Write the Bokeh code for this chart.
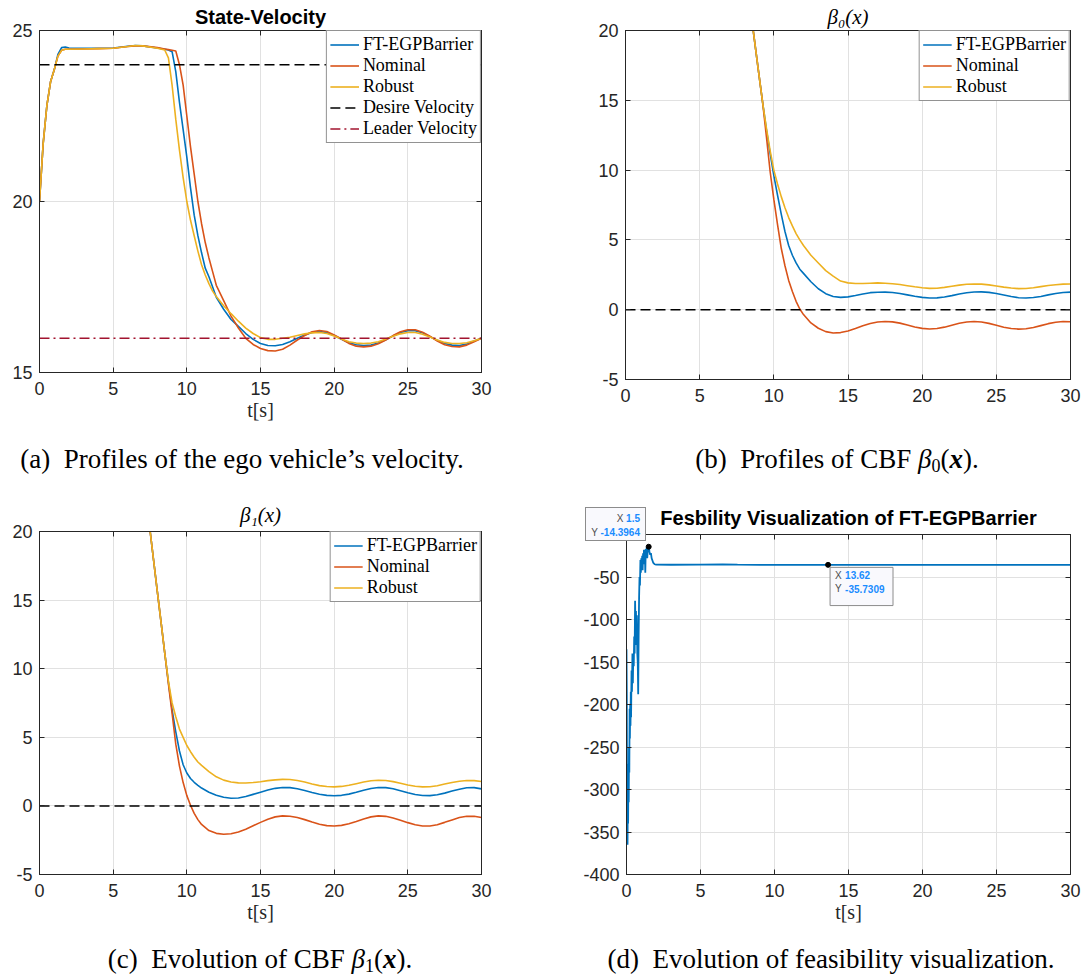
from bokeh.plotting import figure
from bokeh.layouts import column, row
from bokeh.models import Legend, LegendItem, LinearAxis, FixedTicker, Label, Div, Range1d
from bokeh.embed import file_html
from bokeh.resources import INLINE

# ---------------- data ----------------
T_START, T_END = 0.0, 30.0
X_TICKS = [0, 5, 10, 15, 20, 25, 30]
X_TICK_LABELS = ["0", "5", "10", "15", "20", "25", "30"]

# (a) velocity
DESIRED_V = 24.0
LEADER_V = 16.0
T_VEL = [0, 0.25, 0.5, 0.75, 1.0, 1.25, 1.5, 1.75, 2, 3, 4, 5, 6, 6.5, 7, 8, 8.5, 8.75,
         9.0, 9.25, 9.5, 9.75, 10.0, 10.25, 10.5, 10.75, 11.0, 11.25, 11.5, 11.75,
         12.0, 12.5, 13.0, 13.5, 14.0, 14.5, 15.0, 15.5, 16.0, 16.5, 17.0, 17.5, 18.0,
         18.5, 19.0, 19.5, 20.0, 20.5, 21.0, 21.5, 22.0, 22.5, 23.0, 23.5, 24.0, 24.5,
         25.0, 25.5, 26.0, 26.5, 27.0, 27.5, 28.0, 28.5, 29.0, 29.5, 30.0]
VEL_FT = [20.0, 21.7, 22.8, 23.5, 23.85, 24.3, 24.5, 24.52, 24.49, 24.48, 24.48, 24.49,
          24.54, 24.56, 24.55, 24.49, 24.45, 24.43,
          24.38, 23.8, 22.9, 22.1, 21.3, 20.4, 19.6, 19.0, 18.5, 18.05, 17.8, 17.5,
          17.2, 16.85, 16.55, 16.35, 16.14, 15.97, 15.85, 15.79, 15.78, 15.82, 15.9, 16.0,
          16.1, 16.17, 16.2, 16.17, 16.08, 15.97, 15.87, 15.81, 15.79, 15.8, 15.86, 15.96,
          16.07, 16.17, 16.22, 16.22, 16.16, 16.05, 15.94, 15.85, 15.8, 15.79, 15.83, 15.92, 16.0]
VEL_NOM = [20.0, 21.7, 22.8, 23.5, 23.85, 24.25, 24.42, 24.45, 24.45, 24.46, 24.47, 24.48,
           24.53, 24.55, 24.55, 24.5, 24.46, 24.44,
           24.42, 24.4, 24.0, 23.4, 22.5, 21.6, 20.8, 20.0, 19.35, 18.8, 18.35, 17.95,
           17.55, 17.1, 16.65, 16.3, 16.0, 15.82, 15.7, 15.64, 15.63, 15.68, 15.8, 15.95,
           16.08, 16.19, 16.23, 16.2, 16.1, 15.98, 15.85, 15.77, 15.75, 15.77, 15.84, 15.95,
           16.08, 16.19, 16.25, 16.25, 16.18, 16.06, 15.92, 15.81, 15.76, 15.75, 15.8, 15.9, 16.0]
VEL_ROB = [20.0, 21.7, 22.8, 23.5, 23.85, 24.25, 24.42, 24.45, 24.45, 24.46, 24.47, 24.48,
           24.53, 24.56, 24.55, 24.48, 24.43, 24.2,
           23.4, 22.4, 21.5, 20.7, 20.0, 19.45, 19.0, 18.55, 18.15, 17.85, 17.6, 17.38,
           17.22, 16.95, 16.72, 16.5, 16.3, 16.14, 16.02, 15.97, 15.97, 16.0, 16.03, 16.08,
           16.13, 16.16, 16.17, 16.14, 16.07, 15.98, 15.9, 15.86, 15.85, 15.86, 15.9, 15.98,
           16.06, 16.13, 16.17, 16.17, 16.12, 16.04, 15.95, 15.88, 15.85, 15.85, 15.87, 15.93, 16.0]

# (b) beta_0
T_B0 = [8.25, 8.5, 8.75, 9.0, 9.25, 9.5, 9.75, 10.0, 10.25, 10.5, 10.75, 11.0, 11.25, 11.5,
        11.75, 12.0, 12.5, 13.0, 13.5, 14.0, 14.5, 15.0, 15.5, 16.0, 16.5, 17.0, 17.5, 18.0,
        18.5, 19.0, 19.5, 20.0, 20.5, 21.0, 21.5, 22.0, 22.5, 23.0, 23.5, 24.0, 24.5, 25.0,
        25.5, 26.0, 26.5, 27.0, 27.5, 28.0, 28.5, 29.0, 29.5, 30.0]
B0_FT = [22.9, 20.9, 18.85, 16.8, 14.8, 12.9, 11.2, 9.6, 8.2, 6.85, 5.6, 4.6, 3.9, 3.35,
         2.9, 2.6, 2.0, 1.5, 1.15, 0.95, 0.88, 0.92, 1.02, 1.13, 1.22, 1.25, 1.26, 1.23,
         1.16, 1.06, 0.96, 0.88, 0.84, 0.85, 0.91, 1.01, 1.12, 1.21, 1.27, 1.28, 1.24, 1.16,
         1.05, 0.94, 0.86, 0.84, 0.87, 0.95, 1.06, 1.16, 1.23, 1.26]
B0_NOM = [22.9, 20.9, 18.85, 16.8, 14.8, 12.4, 9.9, 7.9, 6.1, 4.4, 3.15, 2.1, 1.3, 0.6,
          0.05, -0.35, -0.95, -1.33, -1.57, -1.67, -1.64, -1.52, -1.35, -1.15, -0.99, -0.88,
          -0.84, -0.87, -0.96, -1.1, -1.24, -1.34, -1.38, -1.35, -1.25, -1.11, -0.97, -0.88,
          -0.85, -0.88, -0.98, -1.12, -1.26, -1.35, -1.39, -1.37, -1.28, -1.14, -1.0, -0.9,
          -0.85, -0.86]
B0_ROB = [22.9, 20.9, 18.85, 16.8, 14.8, 13.0, 11.4, 10.0, 9.0, 8.1, 7.3, 6.6, 6.0, 5.45,
          5.0, 4.6, 3.9, 3.35, 2.8, 2.4, 2.05, 1.92, 1.88, 1.88, 1.9, 1.92, 1.9, 1.86,
          1.8, 1.72, 1.64, 1.57, 1.53, 1.54, 1.6, 1.68, 1.76, 1.82, 1.84, 1.83, 1.78, 1.7,
          1.62, 1.55, 1.51, 1.52, 1.57, 1.65, 1.73, 1.79, 1.83, 1.84]

# (c) beta_1
T_B1 = [7.25, 7.5, 7.75, 8.0, 8.25, 8.5, 8.75, 9.0, 9.25, 9.5, 9.75, 10.0, 10.25, 10.5,
        10.75, 11.0, 11.5, 12.0, 12.5, 13.0, 13.5, 14.0, 14.5, 15.0, 15.5, 16.0, 16.5, 17.0,
        17.5, 18.0, 18.5, 19.0, 19.5, 20.0, 20.5, 21.0, 21.5, 22.0, 22.5, 23.0, 23.5, 24.0,
        24.5, 25.0, 25.5, 26.0, 26.5, 27.0, 27.5, 28.0, 28.5, 29.0, 29.5, 30.0]
B1_FT = [22.3, 20.1, 17.85, 15.6, 13.4, 11.15, 9.0, 7.0, 5.4, 4.0, 3.0, 2.4, 2.0, 1.72,
         1.5, 1.3, 1.0, 0.78, 0.63, 0.56, 0.58, 0.68, 0.84, 1.0, 1.16, 1.28, 1.34, 1.33,
         1.25, 1.12, 0.98, 0.85, 0.77, 0.74, 0.77, 0.86, 0.99, 1.14, 1.27, 1.34, 1.33, 1.25,
         1.11, 0.96, 0.83, 0.76, 0.75, 0.81, 0.93, 1.08, 1.22, 1.32, 1.33, 1.24]
B1_NOM = [22.3, 20.1, 17.85, 15.6, 13.4, 11.15, 8.9, 6.75, 4.5, 2.9, 1.7, 0.75, 0.05, -0.55,
          -1.0, -1.35, -1.8, -2.0, -2.07, -2.03, -1.9, -1.7, -1.45, -1.2, -0.97, -0.8, -0.73,
          -0.75, -0.85, -1.0, -1.18, -1.34, -1.44, -1.47, -1.42, -1.3, -1.13, -0.95, -0.8,
          -0.73, -0.76, -0.88, -1.04, -1.22, -1.37, -1.46, -1.46, -1.37, -1.2, -1.02, -0.85,
          -0.75, -0.76, -0.85]
B1_ROB = [22.3, 20.1, 17.85, 15.6, 13.4, 11.15, 9.1, 7.5, 6.5, 5.6, 5.0, 4.4, 3.95, 3.55,
          3.2, 2.95, 2.5, 2.12, 1.88, 1.74, 1.68, 1.67, 1.7, 1.76, 1.84, 1.9, 1.93, 1.92,
          1.85, 1.74, 1.6, 1.48, 1.41, 1.39, 1.42, 1.5, 1.62, 1.74, 1.83, 1.87, 1.85, 1.77,
          1.65, 1.52, 1.43, 1.39, 1.4, 1.47, 1.59, 1.71, 1.8, 1.85, 1.84, 1.78]
BETA_Y_TICKS = [-5, 0, 5, 10, 15, 20]
BETA_Y_LABELS = ["-5", "0", "5", "10", "15", "20"]
ZERO_LEVEL = 0.0

# (d) feasibility
T_FEAS = [0.0, 0.02, 0.04, 0.07, 0.09, 0.11, 0.13, 0.15, 0.17, 0.19, 0.21, 0.23, 0.25, 0.27,
          0.29, 0.31, 0.34, 0.37, 0.40, 0.43, 0.46, 0.49, 0.52, 0.55, 0.58, 0.61, 0.64, 0.67,
          0.70, 0.73, 0.76, 0.79, 0.82, 0.85, 0.88, 0.91, 0.94, 0.97, 1.00, 1.03, 1.06, 1.09,
          1.12, 1.15, 1.18, 1.21, 1.24, 1.27, 1.30, 1.33, 1.36, 1.40, 1.44, 1.50, 1.55, 1.60,
          1.65, 1.70, 1.80, 1.90, 2.0, 3.0, 5.0, 6.5, 7.5, 9.0, 13.62, 20.0, 30.0]
FEAS = [-135, -190, -330, -365, -300, -340, -270, -315, -250, -280, -205, -240, -200, -225,
        -185, -215, -160, -185, -140, -175, -140, -155, -120, -140, -78, -110, -90, -130,
        -95, -140, -150, -188, -120, -75, -50, -60, -30, -45, -28, -40, -25, -42,
        -22, -35, -18, -30, -20, -45, -17, -25, -15, -28, -18, -14.3964, -20, -24,
        -22, -28, -33, -35, -35.5, -35.6, -35.5, -35.2, -35.5, -35.7, -35.7309, -35.73, -35.73]
TIP1 = (1.5, -14.3964)
TIP2 = (13.62, -35.7309)
FEAS_Y_TICKS = [-400, -350, -300, -250, -200, -150, -100, -50, 0]
FEAS_Y_LABELS = ["-400", "-350", "-300", "-250", "-200", "-150", "-100", "-50", ""]

# ---------------- styling ----------------
BLUE, RED, YELLOW, LEADER = "#0072BD", "#D95319", "#EDB120", "#A2142F"
AX, GRID = "#262626", "#e1e1e1"
SANS, SERIF = "Liberation Sans", "Liberation Serif"
TIP_BG, TIP_BORDER = "#f9f9fd", "#8c8c8c"
VAL_COLOR, KEY_COLOR = "#1a8cff", "#4d4d4d"


def make_fig(w, h, left, right, top, bottom, yr):
    p = figure(width=w, height=h, x_range=Range1d(T_START, T_END), y_range=Range1d(*yr),
               output_backend="svg", toolbar_location=None,
               min_border_left=left, min_border_right=right,
               min_border_top=top, min_border_bottom=bottom)
    p.outline_line_color = AX
    p.outline_line_width = 1
    p.outline_line_alpha = 1
    return p


def style_axes(p, yticks, ylabels, xlabel=None):
    p.xaxis.ticker = FixedTicker(ticks=X_TICKS)
    p.xaxis.major_label_overrides = dict(zip(X_TICKS, X_TICK_LABELS))
    p.yaxis.ticker = FixedTicker(ticks=yticks)
    p.yaxis.major_label_overrides = dict(zip(yticks, ylabels))
    p.xgrid.ticker = FixedTicker(ticks=X_TICKS)
    p.ygrid.ticker = FixedTicker(ticks=yticks)
    p.grid.grid_line_color = GRID
    p.grid.grid_line_width = 1
    for ax in list(p.xaxis) + list(p.yaxis):
        ax.axis_line_color = AX
        ax.major_tick_line_color = AX
        ax.major_tick_in = 5
        ax.major_tick_out = 0
        ax.minor_tick_line_color = None
        ax.major_label_text_font = SANS
        ax.major_label_text_font_size = "18px"
        ax.major_label_text_color = AX
        ax.major_label_standoff = 7
    for ax in p.xaxis:
        ax.major_label_standoff = 9
    if xlabel:
        p.xaxis.axis_label = xlabel
        p.xaxis.axis_label_text_font = SERIF
        p.xaxis.axis_label_text_font_size = "20px"
        p.xaxis.axis_label_text_font_style = "normal"
        p.xaxis.axis_label_text_color = AX
        p.xaxis.axis_label_standoff = 1
    for ticks, place in ((X_TICKS, "above"), (yticks, "right")):
        ax = LinearAxis(ticker=FixedTicker(ticks=ticks),
                        major_label_overrides={t: "" for t in ticks},
                        major_label_text_font_size="0px", major_label_standoff=0,
                        major_tick_in=5, major_tick_out=0, minor_tick_line_color=None,
                        axis_line_color=AX, major_tick_line_color=AX)
        p.add_layout(ax, place)


def style_title(p, text, font, size, style, standoff):
    p.title.text = text
    p.title.text_font = font
    p.title.text_font_size = size
    p.title.text_font_style = style
    p.title.text_color = "black"
    p.title.align = "center"
    p.title.standoff = standoff


def add_legend(p, items):
    leg = Legend(items=[LegendItem(label=l, renderers=[r]) for l, r in items],
                 location="top_right")
    leg.label_text_font = SERIF
    leg.label_text_font_size = "18px"
    leg.label_text_color = "black"
    leg.glyph_width = 29
    leg.glyph_height = 21
    leg.label_height = 21
    leg.label_standoff = 4
    leg.spacing = 0
    leg.padding = 3
    leg.margin = 0
    leg.border_line_color = AX
    leg.border_line_width = 1
    leg.background_fill_alpha = 1
    p.add_layout(leg)


# ---- (a) velocity ----
pa = make_fig(540, 435, 39, 59, 29, 63, (15, 25))
style_axes(pa, [15, 20, 25], ["15", "20", "25"], "t[s]")
style_title(pa, "State-Velocity", SANS, "20px", "bold", 6)
ra1 = pa.line(T_VEL, VEL_FT, color=BLUE, line_width=1.6)
ra2 = pa.line(T_VEL, VEL_NOM, color=RED, line_width=1.6)
ra3 = pa.line(T_VEL, VEL_ROB, color=YELLOW, line_width=1.6)
ra4 = pa.line([T_START, T_END], [DESIRED_V, DESIRED_V], color="black", line_width=1.5,
              line_dash="10 5")
ra5 = pa.line([T_START, T_END], [LEADER_V, LEADER_V], color=LEADER, line_width=1.5,
              line_dash="10 4 2 4")
add_legend(pa, [("FT-EGPBarrier", ra1), ("Nominal", ra2), ("Robust", ra3),
                ("Desire Velocity", ra4), ("Leader Velocity", ra5)])

# ---- (b) beta_0 ----
pb = make_fig(541, 435, 85, 11, 28, 56, (-5, 20))
style_axes(pb, BETA_Y_TICKS, BETA_Y_LABELS)
style_title(pb, "β₀(x)", SERIF, "21px", "italic", 4)
rb1 = pb.line(T_B0, B0_FT, color=BLUE, line_width=1.6)
rb2 = pb.line(T_B0, B0_NOM, color=RED, line_width=1.6)
rb3 = pb.line(T_B0, B0_ROB, color=YELLOW, line_width=1.6)
pb.line([T_START, T_END], [ZERO_LEVEL, ZERO_LEVEL], color="black", line_width=1.5,
        line_dash="10 5")
add_legend(pb, [("FT-EGPBarrier", rb1), ("Nominal", rb2), ("Robust", rb3)])

# ---- (c) beta_1 ----
pc = make_fig(540, 445, 39, 59, 41, 61, (-5, 20))
style_axes(pc, BETA_Y_TICKS, BETA_Y_LABELS, "t[s]")
style_title(pc, "β₁(x)", SERIF, "21px", "italic", 10)
rc1 = pc.line(T_B1, B1_FT, color=BLUE, line_width=1.6)
rc2 = pc.line(T_B1, B1_NOM, color=RED, line_width=1.6)
rc3 = pc.line(T_B1, B1_ROB, color=YELLOW, line_width=1.6)
pc.line([T_START, T_END], [ZERO_LEVEL, ZERO_LEVEL], color="black", line_width=1.5,
        line_dash="10 5")
add_legend(pc, [("FT-EGPBarrier", rc1), ("Nominal", rc2), ("Robust", rc3)])

# ---- (d) feasibility ----
pd_ = make_fig(541, 445, 86, 11, 44, 61, (-400, 0))
style_axes(pd_, FEAS_Y_TICKS, FEAS_Y_LABELS, "t[s]")
style_title(pd_, "Fesbility Visualization of FT-EGPBarrier", SANS, "20px", "bold", 12)
pd_.line(T_FEAS, FEAS, color=BLUE, line_width=1.8)
pd_.scatter([TIP1[0], TIP2[0]], [TIP1[1], TIP2[1]], size=5, color="black")

TIP_FONT = "10px"

# data tip of TIP2 (inside the frame): Bokeh labels anchored on the data point
x2, y2 = TIP2
pd_.add_layout(Label(x=x2, y=y2, x_offset=2, y_offset=-2.5, anchor="top_left",
                     text="Y -14.3964\nY -14.3964", text_font=SANS,
                     text_font_size=TIP_FONT, text_color=TIP_BG, padding=7,
                     background_fill_color=TIP_BG, border_line_color=TIP_BORDER,
                     border_line_width=1))
for key, val, dy in (("X", f"{x2:g}", -10.5), ("Y", f"{y2:g}", -24)):
    pd_.add_layout(Label(x=x2, y=y2, x_offset=7, y_offset=dy, text=key, text_font=SANS,
                         text_font_size=TIP_FONT, text_color=KEY_COLOR,
                         text_align="left", text_baseline="middle"))
    pd_.add_layout(Label(x=x2, y=y2, x_offset=17, y_offset=dy, text=val, text_font=SANS,
                         text_font_size=TIP_FONT, text_font_style="bold",
                         text_color=VAL_COLOR, text_align="left", text_baseline="middle"))

# data tip of TIP1 sticks out of the frame (over the title area): HTML overlay
x1, y1 = TIP1
ROW = "text-align:right;padding-right:5px;white-space:nowrap;line-height:14px"
TIP1_HTML = (
    "<div style='position:relative;width:0;height:0'>"
    "<div style=\"position:absolute;left:45px;top:-428px;width:61px;height:34px;"
    f"padding-top:4px;background:{TIP_BG};border:1px solid {TIP_BORDER};"
    f"font-family:'{SANS}';font-size:{TIP_FONT};z-index:20\">"
    f"<div style='{ROW}'><span style='color:{KEY_COLOR}'>X</span> "
    f"<b style='color:{VAL_COLOR}'>{x1:g}</b></div>"
    f"<div style='{ROW}'><span style='color:{KEY_COLOR}'>Y</span> "
    f"<b style='color:{VAL_COLOR}'>{y1:g}</b></div>"
    "</div></div>")


# ---- captions ----
def caption(html, width, height, center, pad_top, extra=""):
    shift = center - width / 2
    return Div(text=(extra +
                     f'<div style="position:relative;left:{shift}px;width:{width}px;'
                     f'padding-top:{pad_top}px;text-align:center;white-space:nowrap;'
                     f'font-family:\'{SERIF}\';font-size:27px;line-height:28px;color:black">'
                     f'{html}</div>'), width=width, height=height, margin=0,
               styles={"overflow": "visible"})


SUB = "<span style='font-size:18px;vertical-align:-4px;line-height:0'>"
cap_a = caption("(a)&nbsp; Profiles of the ego vehicle’s velocity.", 540, 55, 242, 10)
cap_b = caption(f"(b)&nbsp; Profiles of CBF <i>β</i>{SUB}0</span>(<b><i>x</i></b>).",
                541, 55, 297, 10)
cap_c = caption(f"(c)&nbsp; Evolution of CBF <i>β</i>{SUB}1</span>(<b><i>x</i></b>).",
                540, 43, 260, 10)
cap_d = caption("(d)&nbsp; Evolution of feasibility visualization.", 541, 43, 291, 10,
                extra=TIP1_HTML)

layout = column(row(column(pa), column(pb)), row(cap_a, cap_b),
                row(column(pc), column(pd_)), row(cap_c, cap_d))

with open("out.html", "w") as f:
    f.write(file_html(layout, INLINE))
